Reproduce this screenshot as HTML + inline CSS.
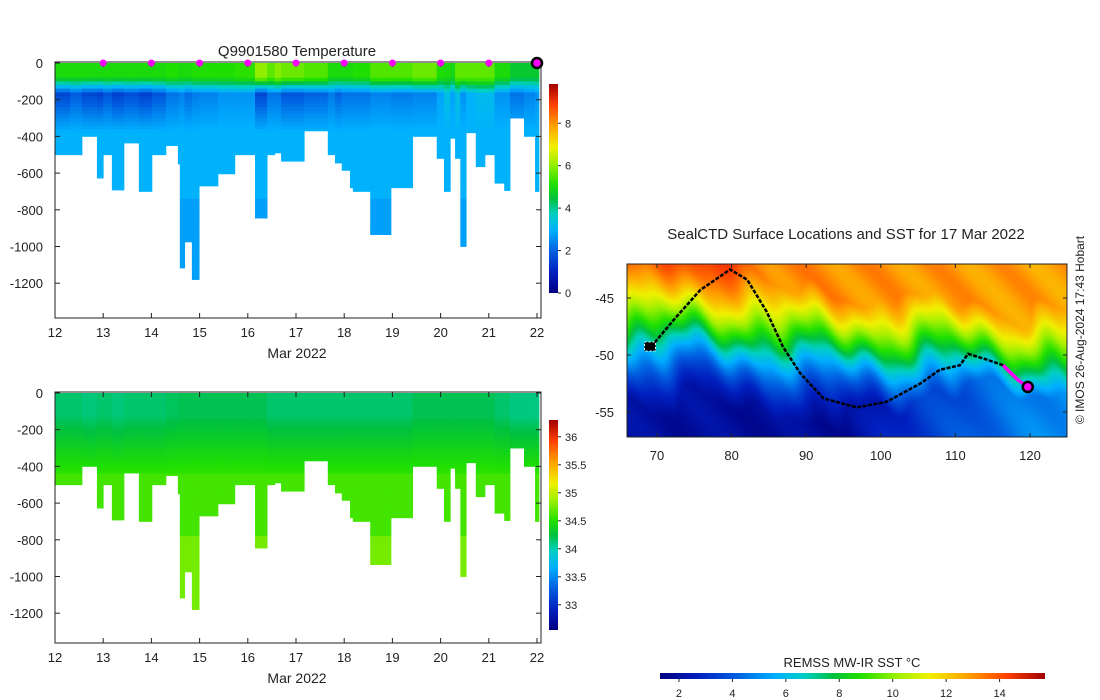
<!DOCTYPE html>
<html><head><meta charset="utf-8"><style>
html,body{margin:0;padding:0;background:#fff;}
#wrap{position:relative;width:1100px;height:700px;overflow:hidden;font-family:"Liberation Sans","DejaVu Sans",sans-serif;}
svg{position:absolute;left:0;top:0;}
#map{position:absolute;left:627px;top:264px;width:440px;height:173px;}
</style></head><body>
<div id="wrap">
<canvas id="map" width="440" height="173"></canvas>
<svg id="svg" width="1100" height="700" xmlns="http://www.w3.org/2000/svg"></svg>
</div>
<script>
// ---- data ----
const days=[12.00,12.31,12.56,12.87,13.00,13.18,13.43,13.74,14.01,14.30,14.55,14.59,14.69,14.84,14.99,15.38,15.73,16.15,16.40,16.56,16.69,17.17,17.66,17.81,17.95,18.12,18.18,18.54,18.97,19.42,19.92,20.07,20.20,20.30,20.41,20.53,20.73,20.92,21.12,21.32,21.44,21.73,21.96];
const lastDay=22.04;
const maxDepth=[500,500,400,627,500,692,436,700,500,450,550,1117,975,1180,670,604,500,845,500,490,535,370,500,545,585,680,700,935,680,400,520,700,410,520,1000,380,565,500,655,695,300,400,700];
const surfTemp=[5.0,5.0,5.0,5.0,5.0,5.0,5.0,5.0,5.0,5.1,5.0,5.0,5.0,5.1,5.1,5.1,5.2,6.0,5.6,5.9,5.7,5.5,5.0,5.0,5.0,5.0,5.1,5.5,5.5,5.7,5.1,5.0,4.9,5.6,5.6,5.6,5.6,5.6,5.0,5.0,4.6,4.6,4.6];
const minTemp=[1.6,1.9,1.6,1.5,1.8,1.5,1.7,1.5,1.8,2.2,2.3,2.4,2.1,2.3,2.4,2.6,2.6,1.6,2.2,2.2,1.8,2.0,2.3,2.0,2.2,2.2,2.2,2.4,2.3,2.4,2.8,3.3,2.8,3.3,2.6,3.0,3.2,3.2,2.6,2.6,2.2,2.4,2.6];
const salSurf=[34.15,34.15,34.12,34.15,34.15,34.12,34.15,34.15,34.15,34.18,34.2,34.2,34.2,34.2,34.2,34.2,34.2,34.2,34.15,34.15,34.15,34.15,34.15,34.15,34.15,34.15,34.15,34.15,34.15,34.2,34.2,34.2,34.2,34.2,34.2,34.2,34.2,34.2,34.15,34.15,34.1,34.1,34.1];
const profileDots=[13,14,15,16,17,18,19,20,21];
const xTicks=[12,13,14,15,16,17,18,19,20,21,22];
const yTicks=[0,200,400,600,800,1000,1200];
const tempTicks=[0,2,4,6,8];
const salTicks=[33,33.5,34,34.5,35,35.5,36];
const sstTicks=[2,4,6,8,10,12,14];
const trackLon=[69.7,72.4,75.8,79.8,82.1,84.7,86.9,89.2,92.3,96.8,100.8,105.3,107.9,110.6,111.7,114.2,116.4];
const trackLat=[-48.9,-46.8,-44.3,-42.5,-43.4,-46.2,-49.3,-51.6,-53.8,-54.6,-54.1,-52.5,-51.3,-50.9,-49.9,-50.4,-50.9];
const recentLon=[116.4,117.0,118.4,119.7];
const recentLat=[-50.9,-51.3,-52.2,-52.8];
const frontLon=[66,75,85,90,100,110,120,126];
const frontLat=[-48.0,-47.8,-48.5,-49.2,-49.4,-49.6,-50.5,-50.8];
const ceilLon=[66,75,85,100,126];
const ceilT=[15.4,14.8,13.2,13.0,12.8];
const floorLon=[66,95,105,120,126];
const floorT=[2.0,1.8,3.3,4.8,5.0];

// ---- helpers ----
const NS='http://www.w3.org/2000/svg';
const svg=document.getElementById('svg');
function el(tag,attrs,parent){const e=document.createElementNS(NS,tag);for(const k in attrs)e.setAttribute(k,attrs[k]);(parent||svg).appendChild(e);return e;}
const stops=[[0,[0,0,128]],[0.1,[0,32,192]],[0.2,[0,96,224]],[0.3,[0,176,255]],[0.38,[0,208,192]],[0.45,[0,192,64]],[0.52,[32,224,0]],[0.62,[160,240,0]],[0.7,[240,240,0]],[0.8,[255,160,0]],[0.9,[255,64,0]],[1,[160,0,0]]];
function cmap(t){t=Math.max(0,Math.min(1,t));for(let i=1;i<stops.length;i++){if(t<=stops[i][0]){const a=stops[i-1],b=stops[i],f=(t-a[0])/(b[0]-a[0]);return a[1].map((v,j)=>Math.round(v+(b[1][j]-v)*f));}}return stops[stops.length-1][1];}
function rgb(c){return 'rgb('+c[0]+','+c[1]+','+c[2]+')';}
function lerp(a,b,f){f=Math.max(0,Math.min(1,f));return a+(b-a)*f;}
function interp(xs,ys,x){if(x<=xs[0])return ys[0];for(let i=1;i<xs.length;i++)if(x<=xs[i])return lerp(ys[i-1],ys[i],(x-xs[i-1])/(xs[i]-xs[i-1]));return ys[ys.length-1];}
const xDay=d=>55+(d-12)*48.2;
const yTop=z=>63+z/200*36.7;
const yBot=z=>393+z/200*36.7;
const T0=0,T1=9.85,S0=32.55,S1=36.3;
const DEEP=3.0;
function tempAt(i,z){const ts=surfTemp[i],tm=minTemp[i];if(z<80)return ts;if(z<170)return lerp(ts,tm,(z-80)/90);if(z<380)return lerp(tm,DEEP,(z-170)/210);if(z<750)return DEEP;return 2.75;}
function salAt(i,z){const s=salSurf[i];if(z<120)return s;if(z<450)return lerp(s,34.55,(z-120)/330);if(z<780)return 34.6;return 34.75;}

function txt(x,y,s,opts,name){const t=el('text',Object.assign({x:x,y:y,'font-size':13,fill:'#222'},opts||{}));t.textContent=s;return t;}

function section(yfun,top,bottom,valFn,v0,v1,name){
  const g=el('g',{});
  
  
  for(let i=0;i<days.length;i++){
    const x0=xDay(days[i]),x1=xDay(i+1<days.length?days[i+1]:lastDay);
    for(let z=0;z<maxDepth[i];z+=20){
      const z1=Math.min(z+20,maxDepth[i]);
      const r=el('rect',{x:x0,y:yfun(z),width:x1-x0+0.4,height:yfun(z1)-yfun(z)+0.4,fill:rgb(cmap((valFn(i,z+10)-v0)/(v1-v0)))},g);
      
      
    }
  }
  const f=el('rect',{x:55,y:top,width:486,height:bottom-top,fill:'none',stroke:'#222','stroke-width':1});
  
  
  xTicks.forEach(d=>{const x=xDay(d);el('line',{x1:x,y1:bottom,x2:x,y2:bottom-5,stroke:'#222'});el('line',{x1:x,y1:top,x2:x,y2:top+5,stroke:'#222'});txt(x,bottom+19,String(d),{'text-anchor':'middle'},'x-tick-label');});
  yTicks.forEach(z=>{const y=yfun(z);el('line',{x1:55,y1:y,x2:60,y2:y,stroke:'#222'});el('line',{x1:541,y1:y,x2:536,y2:y,stroke:'#222'});txt(43,y+5,z===0?'0':'-'+z,{'text-anchor':'end'},'y-tick-label');});
  txt(297,bottom+40,'Mar 2022',{'text-anchor':'middle','font-size':14},'x-axis-title');
}
function vbar(y0,y1,v0,v1,ticks,fmt,name){
  const id='g'+name;
  const lg=el('linearGradient',{id:id,x1:0,y1:1,x2:0,y2:0});
  for(let k=0;k<=40;k++){el('stop',{offset:k/40,'stop-color':rgb(cmap(k/40))},lg);}
  const r=el('rect',{x:549,y:y0,width:9,height:y1-y0,fill:'url(#'+id+')'});
  
  
  ticks.forEach(v=>{const y=y1-(v-v0)/(v1-v0)*(y1-y0);el('line',{x1:558,y1:y,x2:561,y2:y,stroke:'#222'});txt(565,y+4,fmt(v),{'font-size':11},'colorbar-tick-label');});
}

// ---- top temperature section ----
section(yTop,62,318,tempAt,T0,T1,'temperature-section');
txt(297,56,'Q9901580  Temperature',{'text-anchor':'middle','font-size':15},'top-chart-title');
profileDots.forEach(d=>{const c=el('circle',{cx:xDay(d),cy:63,r:3.5,fill:'#ff00ff'});});
const last=el('circle',{cx:xDay(22),cy:63,r:5,fill:'#ff00ff',stroke:'#000','stroke-width':2.5});


vbar(84,293,T0,T1,tempTicks,v=>String(v),'temperature-colorbar');

// ---- bottom salinity section ----
section(yBot,392,643,salAt,S0,S1,'salinity-section');
vbar(420,630,S0,S1,salTicks,v=>String(v),'salinity-colorbar');

// ---- map ----
const lonX=l=>657+(l-70)*7.46;
const latY=a=>298-(a+45)*11.4;
const cv=document.getElementById('map'),ctx=cv.getContext('2d');
for(let py=0;py<173;py+=2)for(let px=0;px<440;px+=2){
  const lon=70+(627+px-657)/7.46, lat=-45-(264+py-298)/11.4;
  const wob=0.7*Math.sin(lon*0.35+lat*0.3)+0.5*Math.sin(lon*0.8+1.3)+0.3*Math.sin(lon*1.5+lat*0.7);
  let t=8+7.5*Math.tanh((lat-interp(frontLon,frontLat,lon)+wob)/5.5);
  t=Math.min(interp(ceilLon,ceilT,lon)+0.4*Math.sin(lon*0.7+lat),t);
  t=Math.max(interp(floorLon,floorT,lon)+0.3*Math.sin(lon*0.6+lat*0.8),t);
  ctx.fillStyle=rgb(cmap((t-1.29)/(15.7-1.29)));ctx.fillRect(px,py,2,2);
}
const mf=el('rect',{x:627,y:264,width:440,height:173,fill:'none',stroke:'#222'});


let pts=trackLon.map((l,i)=>lonX(l)+','+latY(trackLat[i])).join(' ');
const tr=el('polyline',{points:pts,fill:'none',stroke:'#000','stroke-width':2.5,'stroke-dasharray':'4 1.5'});


const rt=el('polyline',{points:recentLon.map((l,i)=>lonX(l)+','+latY(recentLat[i])).join(' '),fill:'none',stroke:'#ff00ff','stroke-width':3.5});


const st=el('rect',{x:lonX(69)-5,y:latY(-49.3)-5,width:11,height:9,fill:'#000',stroke:'#fff','stroke-width':1,'stroke-dasharray':'2 2'});


const cur=el('circle',{cx:lonX(119.7),cy:latY(-52.8),r:5,fill:'#ff00ff',stroke:'#000','stroke-width':2.5});


[70,80,90,100,110,120].forEach(l=>{const x=lonX(l);el('line',{x1:x,y1:437,x2:x,y2:433,stroke:'#222'});el('line',{x1:x,y1:264,x2:x,y2:268,stroke:'#222'});txt(x,460,String(l),{'text-anchor':'middle'},'map-x-tick-label');});
[-45,-50,-55].forEach(a=>{const y=latY(a);el('line',{x1:627,y1:y,x2:631,y2:y,stroke:'#222'});el('line',{x1:1067,y1:y,x2:1063,y2:y,stroke:'#222'});txt(614,y+5,String(a),{'text-anchor':'end'},'map-y-tick-label');});
txt(846,239,'SealCTD Surface Locations and SST for 17 Mar 2022',{'text-anchor':'middle','font-size':15},'map-title');
txt(0,0,'© IMOS 26-Aug-2024 17:43 Hobart',{'text-anchor':'middle','font-size':12,transform:'translate(1084,330) rotate(-90)'},'credit-text');

// ---- horizontal SST colorbar ----
const hg=el('linearGradient',{id:'hsst',x1:0,y1:0,x2:1,y2:0});
for(let k=0;k<=40;k++){el('stop',{offset:k/40,'stop-color':rgb(cmap(k/40))},hg);}
const hb=el('rect',{x:660,y:673,width:385,height:6,fill:'url(#hsst)'});


sstTicks.forEach(v=>{const x=660+(v-1.29)/(15.7-1.29)*385;el('line',{x1:x,y1:679,x2:x,y2:682,stroke:'#222'});txt(x,697,String(v),{'text-anchor':'middle','font-size':11},'sst-tick-label');});
txt(852,667,'REMSS MW-IR SST °C',{'text-anchor':'middle','font-size':13},'sst-colorbar-title');
</script>
</body></html>
